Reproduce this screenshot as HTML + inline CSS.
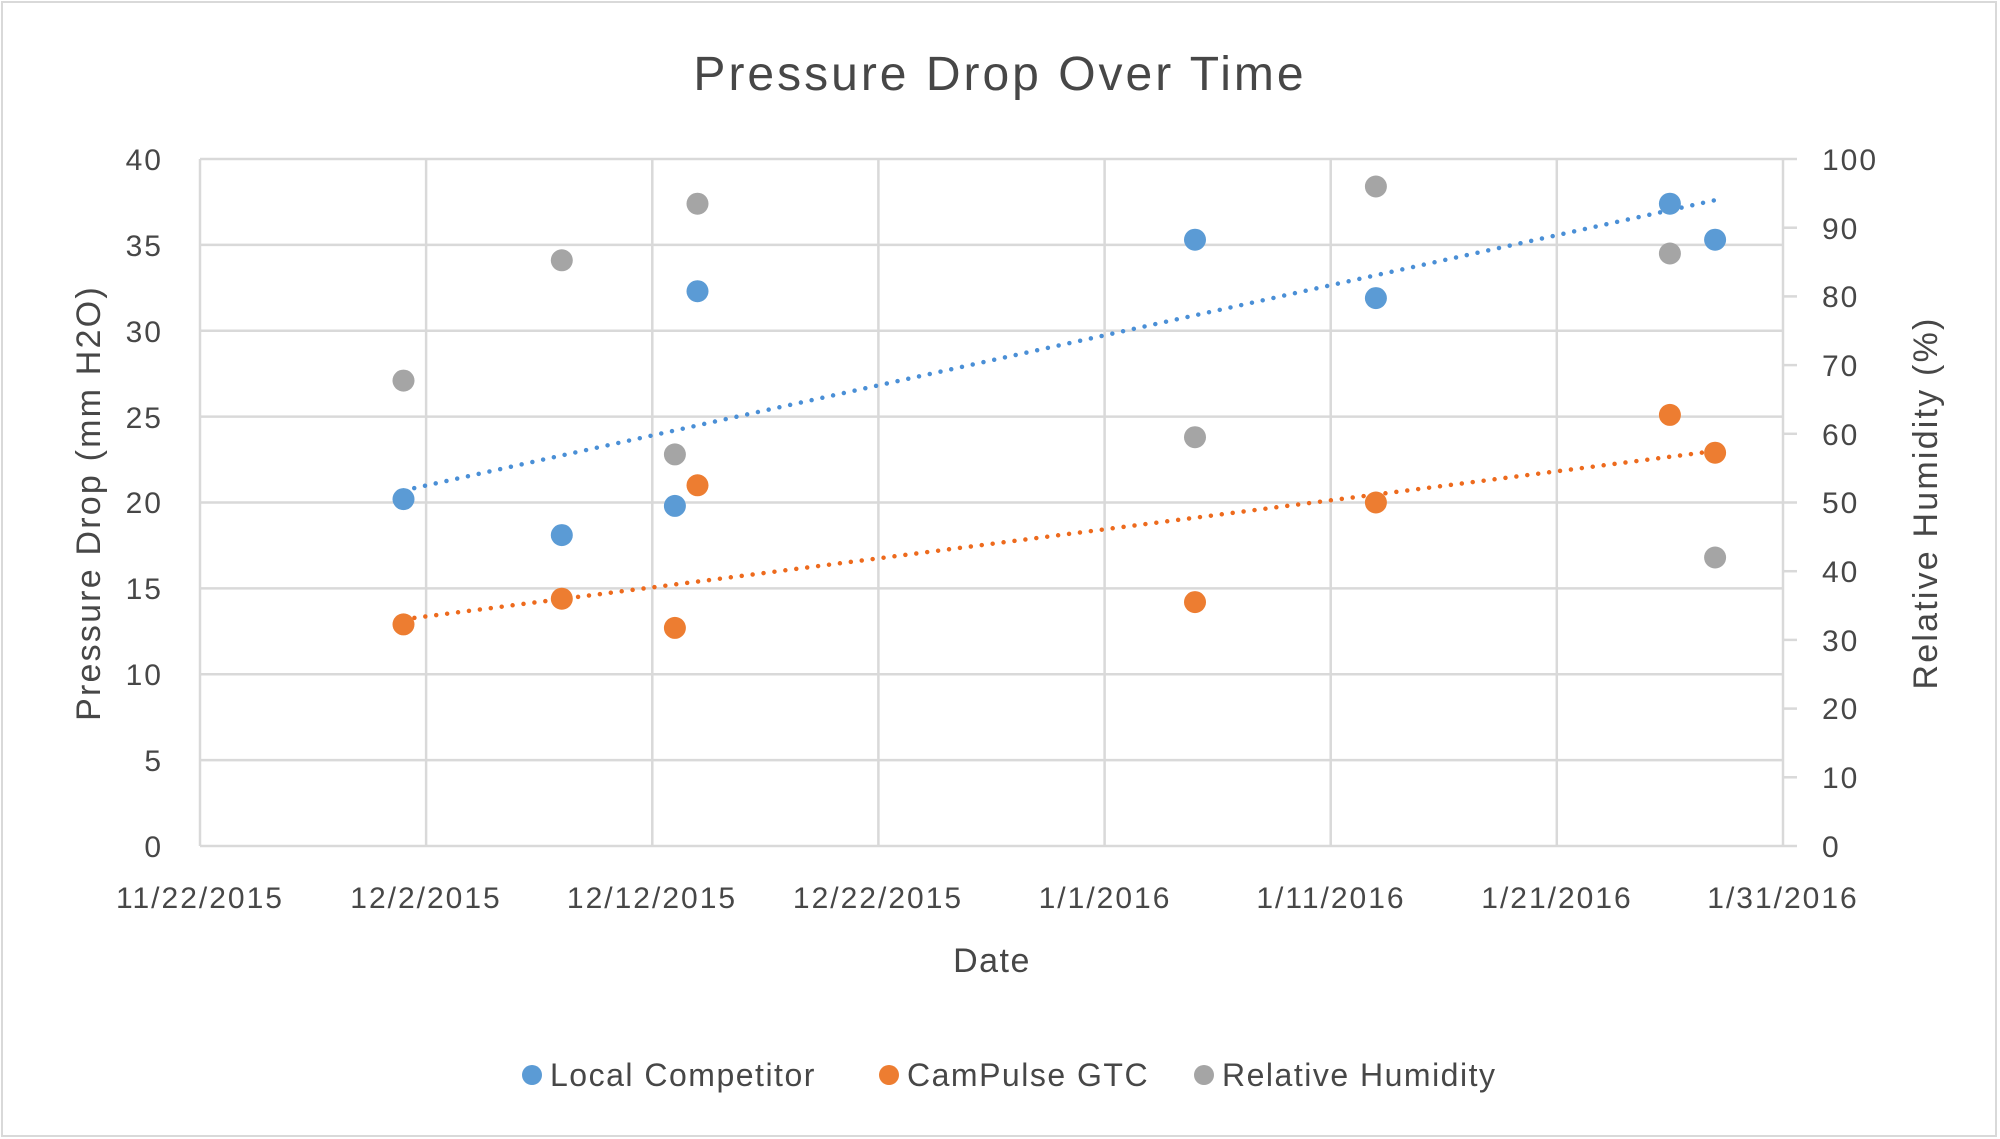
<!DOCTYPE html>
<html><head><meta charset="utf-8"><style>
html,body{margin:0;padding:0;background:#fff;}
svg{display:block;}
text{font-family:"Liberation Sans",sans-serif;fill:#474747;}
</style></head><body>
<svg width="2000" height="1139" viewBox="0 0 2000 1139" xmlns="http://www.w3.org/2000/svg">
<rect x="2" y="2" width="1994" height="1134" fill="#fff" stroke="#d9d9d9" stroke-width="2"/>
<text x="1000" y="90" font-size="48" letter-spacing="3" text-anchor="middle">Pressure Drop Over Time</text>
<g stroke="#d9d9d9" stroke-width="2.5">
<line x1="200" y1="159" x2="1783" y2="159"/>
<line x1="200" y1="244.9" x2="1783" y2="244.9"/>
<line x1="200" y1="330.8" x2="1783" y2="330.8"/>
<line x1="200" y1="416.6" x2="1783" y2="416.6"/>
<line x1="200" y1="502.5" x2="1783" y2="502.5"/>
<line x1="200" y1="588.4" x2="1783" y2="588.4"/>
<line x1="200" y1="674.3" x2="1783" y2="674.3"/>
<line x1="200" y1="760.1" x2="1783" y2="760.1"/>
<line x1="200" y1="846" x2="1783" y2="846"/>
<line x1="200" y1="159" x2="200" y2="846"/>
<line x1="426.1" y1="159" x2="426.1" y2="846"/>
<line x1="652.3" y1="159" x2="652.3" y2="846"/>
<line x1="878.4" y1="159" x2="878.4" y2="846"/>
<line x1="1104.6" y1="159" x2="1104.6" y2="846"/>
<line x1="1330.7" y1="159" x2="1330.7" y2="846"/>
<line x1="1556.8" y1="159" x2="1556.8" y2="846"/>
<line x1="1783" y1="159" x2="1783" y2="846"/>
<line x1="1783" y1="159" x2="1797" y2="159"/>
<line x1="1783" y1="227.7" x2="1797" y2="227.7"/>
<line x1="1783" y1="296.4" x2="1797" y2="296.4"/>
<line x1="1783" y1="365.1" x2="1797" y2="365.1"/>
<line x1="1783" y1="433.8" x2="1797" y2="433.8"/>
<line x1="1783" y1="502.5" x2="1797" y2="502.5"/>
<line x1="1783" y1="571.2" x2="1797" y2="571.2"/>
<line x1="1783" y1="639.9" x2="1797" y2="639.9"/>
<line x1="1783" y1="708.6" x2="1797" y2="708.6"/>
<line x1="1783" y1="777.3" x2="1797" y2="777.3"/>
<line x1="1783" y1="846" x2="1797" y2="846"/>
</g>
<g font-size="30" letter-spacing="2" text-anchor="end">
<text x="163" y="170">40</text><text x="163" y="256">35</text><text x="163" y="342">30</text>
<text x="163" y="428">25</text><text x="163" y="513">20</text><text x="163" y="599">15</text>
<text x="163" y="685">10</text><text x="163" y="771">5</text><text x="163" y="857">0</text>
</g>
<g font-size="30" letter-spacing="2">
<text x="1822" y="170">100</text><text x="1822" y="239">90</text><text x="1822" y="307">80</text>
<text x="1822" y="376">70</text><text x="1822" y="445">60</text><text x="1822" y="513">50</text>
<text x="1822" y="582">40</text><text x="1822" y="651">30</text><text x="1822" y="719">20</text>
<text x="1822" y="788">10</text><text x="1822" y="857">0</text>
</g>
<g font-size="30" letter-spacing="2" text-anchor="middle">
<text x="200" y="908">11/22/2015</text><text x="426" y="908">12/2/2015</text>
<text x="652" y="908">12/12/2015</text><text x="878" y="908">12/22/2015</text>
<text x="1105" y="908">1/1/2016</text><text x="1331" y="908">1/11/2016</text>
<text x="1557" y="908">1/21/2016</text><text x="1783" y="908">1/31/2016</text>
</g>
<text x="992" y="972" font-size="34" letter-spacing="1.5" text-anchor="middle">Date</text>
<text transform="translate(100,503) rotate(-90)" font-size="34" letter-spacing="2.2" text-anchor="middle">Pressure Drop (mm H2O)</text>
<text transform="translate(1937,503) rotate(-90)" font-size="34" letter-spacing="2.2" text-anchor="middle">Relative Humidity (%)</text>
<line x1="403.5" y1="490.5" x2="1715" y2="200.2" stroke="#4a8fd6" stroke-width="4.5" stroke-dasharray="0 11" stroke-linecap="round"/>
<line x1="403.5" y1="619.3" x2="1715" y2="451" stroke="#ed6a1d" stroke-width="4.5" stroke-dasharray="0 11" stroke-linecap="round"/>
<g fill="#a5a5a5">
<circle cx="403.5" cy="380.6" r="11"/><circle cx="561.8" cy="260.3" r="11"/><circle cx="674.9" cy="454.4" r="11"/><circle cx="697.5" cy="203.7" r="11"/>
<circle cx="1195" cy="437.2" r="11"/><circle cx="1375.9" cy="186.5" r="11"/><circle cx="1669.9" cy="253.5" r="11"/><circle cx="1715.1" cy="557.5" r="11"/>
</g>
<g fill="#5b9bd5">
<circle cx="403.5" cy="499.1" r="11"/><circle cx="561.8" cy="535.1" r="11"/><circle cx="674.9" cy="505.9" r="11"/><circle cx="697.5" cy="291.2" r="11"/>
<circle cx="1195" cy="239.7" r="11"/><circle cx="1375.9" cy="298.1" r="11"/><circle cx="1669.9" cy="203.7" r="11"/><circle cx="1715.1" cy="239.7" r="11"/>
</g>
<g fill="#ed7d31">
<circle cx="403.5" cy="624.4" r="11"/><circle cx="561.8" cy="598.7" r="11"/><circle cx="674.9" cy="627.9" r="11"/><circle cx="697.5" cy="485.3" r="11"/>
<circle cx="1195" cy="602.1" r="11"/><circle cx="1375.9" cy="502.5" r="11"/><circle cx="1669.9" cy="414.9" r="11"/><circle cx="1715.1" cy="452.7" r="11"/>
</g>
<circle cx="532" cy="1075" r="10" fill="#5b9bd5"/>
<text x="550" y="1086" font-size="32" letter-spacing="1.5">Local Competitor</text>
<circle cx="889" cy="1075" r="10" fill="#ed7d31"/>
<text x="907" y="1086" font-size="32" letter-spacing="1.5">CamPulse GTC</text>
<circle cx="1204" cy="1075" r="10" fill="#a5a5a5"/>
<text x="1222" y="1086" font-size="32" letter-spacing="1.5">Relative Humidity</text>
</svg>
</body></html>
